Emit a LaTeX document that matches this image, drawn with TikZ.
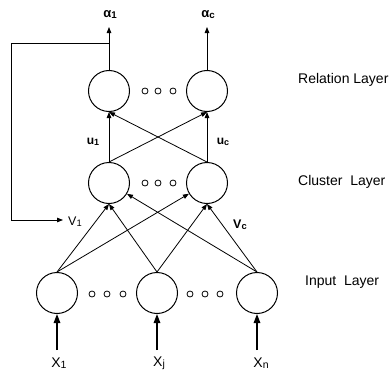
\documentclass[tikz,border=0pt]{standalone}
\usepackage{fontspec}
\setmainfont{Liberation Sans}
\usetikzlibrary{arrows.meta}
\newcommand{\lsub}[1]{\raisebox{-1pt}{\scalebox{0.75}{#1}}}
\begin{document}
\begin{tikzpicture}[x=1pt,y=-1pt,
  neuron/.style={circle,draw,line width=1pt,minimum size=41pt,inner sep=0pt},
  smalldot/.style={circle,draw,line width=0.8pt,minimum size=6pt,inner sep=0pt},
  conn/.style={line width=0.8pt,-{Triangle[length=6pt,width=4.5pt]}},
  inarrow/.style={line width=1.4pt,-{Triangle[length=9pt,width=6.5pt]}},
  layerlab/.style={font=\fontsize{14}{16}\selectfont,anchor=west,inner sep=0pt},
  sym/.style={font=\fontsize{13}{15}\selectfont\bfseries,inner sep=0pt},
  usym/.style={font=\fontsize{12}{14}\selectfont\bfseries,inner sep=0pt},
  vlab/.style={font=\fontsize{12.5}{14}\selectfont,inner sep=0pt},
  xlab/.style={font=\fontsize{14}{16}\selectfont,inner sep=0pt}]
\useasboundingbox (0,0) rectangle (389,372);
% neurons
\node[neuron] (r1) at (109,91) {};
\node[neuron] (r2) at (207,91) {};
\node[neuron] (c1) at (109,183) {};
\node[neuron] (c2) at (207,183) {};
\node[neuron] (i1) at (57,293) {};
\node[neuron] (i2) at (157,293) {};
\node[neuron] (i3) at (257,293) {};
% dots
\foreach \n/\x/\y in {ra/145/91,rb/158/91,rc/173/91,ca/145/183,cb/158/183,cc/173/183,
  ia/92/294,ib/107/294,ic/123/294,id/190/294,ie/205/294,iff/220/294}
  \node[smalldot] (\n) at (\x,\y) {};
% outputs
\coordinate (a1) at (109,27);
\coordinate (a2) at (207,27);
\draw[conn] (r1.north) -- (a1);
\draw[conn] (r2.north) -- (a2);
\node[sym] (la1) at (110,15) {α\lsub{1}};
\node[sym] (la2) at (208,15) {α\lsub{c}};
% feedback
\coordinate (fb) at (109,43);
\coordinate (fbl) at (11,43);
\coordinate (fbd) at (11,220);
\coordinate (fbe) at (63,220);
\draw[conn] (fb) -- (fbl) -- (fbd) -- (fbe);
% cluster -> relation
\draw[conn] (c1.north) -- (r1.south);
\draw[conn] (c2.north) -- (r2.south);
\draw[conn] (c1.north) -- (r2.south);
\draw[conn] (c2.north) -- (r1.south);
% input -> cluster
\draw[conn] (i1.north) -- (c1.south);
\draw[conn] (i1.north) -- (c2);
\draw[conn] (i2.north) -- (c1.south);
\draw[conn] (i2.north) -- (c2.south);
\draw[conn] (i3.north) -- (c2.south);
\draw[conn] (i3.north) -- (c1);
% inputs
\coordinate (x1) at (57,350);
\coordinate (x2) at (157,350);
\coordinate (x3) at (257,350);
\draw[inarrow] (x1) -- (i1.south);
\draw[inarrow] (x2) -- (i2.south);
\draw[inarrow] (x3) -- (i3.south);
\node[xlab] (lx1) at (59,363) {X\lsub{1}};
\node[xlab] (lx2) at (159,363) {X\lsub{j}};
\node[xlab] (lx3) at (261,363) {X\lsub{n}};
% weight labels
\node[usym] (lu1) at (93,142) {u\lsub{1}};
\node[usym] (lu2) at (223,142) {u\lsub{c}};
\node[vlab] (lv1) at (75,222) {V\lsub{1}};
\node[vlab,font=\fontsize{12.5}{14}\selectfont\bfseries] (lv2) at (240,225) {V\lsub{c}};
% layer labels
\node[layerlab] (lrel) at (298,80) {Relation Layer};
\node[layerlab] (lclu) at (298,182) {Cluster\ \ Layer};
\node[layerlab] (linp) at (305,282) {Input\ \ Layer};
\end{tikzpicture}
\end{document}
